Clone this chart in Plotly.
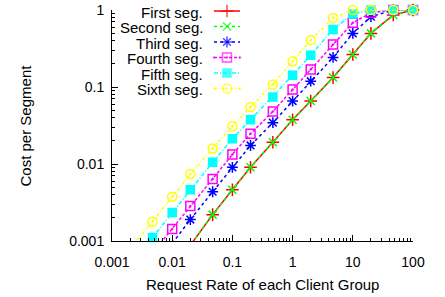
import plotly.graph_objects as go

# ---- data ----
rate = [0.001, 0.002, 0.0047, 0.01, 0.02, 0.047, 0.1, 0.2, 0.47, 1, 2, 4.7, 10, 20, 47, 100]

series_names = ["First seg.", "Second seg.", "Third seg.", "Fourth seg.", "Fifth seg.", "Sixth seg."]

first_seg  = [0.00004, 0.00009, 0.0002, 0.00042, 0.00088, 0.0022, 0.00464, 0.00906, 0.0192, 0.0376, 0.0657, 0.1325, 0.264, 0.497, 0.86, 1.0]
second_seg = [0.00004, 0.00009, 0.0002, 0.00042, 0.00088, 0.0022, 0.00464, 0.00906, 0.0192, 0.0376, 0.0657, 0.1325, 0.264, 0.497, 0.86, 1.0]
third_seg  = [0.0001, 0.0002, 0.00045, 0.00093, 0.0019, 0.00436, 0.00906, 0.0174, 0.0344, 0.0657, 0.119, 0.242, 0.497, 0.818, 1.0, 1.0]
fourth_seg = [0.00014, 0.0003, 0.0007, 0.00143, 0.00284, 0.0064, 0.0133, 0.0247, 0.048, 0.0925, 0.169, 0.357, 0.683, 0.92, 1.0, 1.0]
fifth_seg  = [0.00024, 0.00052, 0.00111, 0.00234, 0.00464, 0.0105, 0.0212, 0.0376, 0.074, 0.142, 0.259, 0.56, 0.887, 1.0, 1.0, 1.0]
sixth_seg  = [0.0004, 0.0008, 0.00178, 0.00376, 0.0074, 0.0159, 0.031, 0.055, 0.108, 0.216, 0.406, 0.79, 1.0, 1.0, 1.0, 1.0]

x_ticks = [0.001, 0.01, 0.1, 1, 10, 100]
x_tick_labels = ["0.001", "0.01", "0.1", "1", "10", "100"]
y_ticks = [0.001, 0.01, 0.1, 1]
y_tick_labels = ["0.001", "0.01", "0.1", "1"]

x_title = "Request Rate of each Client Group"
y_title = "Cost per Segment"

values = [first_seg, second_seg, third_seg, fourth_seg, fifth_seg, sixth_seg]

# minor tick positions (2..9 within each decade)
x_minor = [m * 10.0 ** e for e in range(-3, 2) for m in range(2, 10)]
y_minor = [m * 10.0 ** e for e in range(-3, 0) for m in range(2, 10)]

# ---- styles ----
colors = ["#ff0000", "#00ff00", "#0000ff", "#ff00ff", "#00ffff", "#ffff00"]
dashes = ["solid", "dot", "dot", "3px,2px", "4px,2px,1px,2px", "3px,2px,1px,2px"]
symbols = ["cross-thin", "x-thin", "asterisk-open", "square-open-dot", "square", "circle-open-dot"]
sizes = [9, 8, 9, 9, 8, 9]

FONT = "Liberation Sans, Arial, sans-serif"
fig = go.Figure()

YMIN = 0.001
for name, v, c, d, s, sz in zip(series_names, values, colors, dashes, symbols, sizes):
    fig.add_trace(go.Scatter(
        x=rate, y=v, mode="lines", name=name, showlegend=False,
        line=dict(color=c, width=1.5, dash=d), hoverinfo="skip"))
    xs = [xv for xv, yv in zip(rate, v) if yv >= YMIN]
    ys = [yv for yv in v if yv >= YMIN]
    fig.add_trace(go.Scatter(
        x=xs, y=ys, mode="markers", name=name, showlegend=False, cliponaxis=False,
        marker=dict(symbol=s, size=sz, color=c, line=dict(color=c, width=1.5))))

# ---- custom gnuplot-style legend (text left, sample right) ----
# legend overlay axes: x2 in units of sample length, y2 in pixels from plot top
PLOT_W, PLOT_H = 301, 231
SAMPLE_L, SAMPLE_LEFT = 26.0, 102.0  # px
x2_range = [-SAMPLE_LEFT / SAMPLE_L, (PLOT_W - SAMPLE_LEFT) / SAMPLE_L]
row_gap = 15.5
for i, (name, c, d, s, sz) in enumerate(zip(series_names, colors, dashes, symbols, sizes)):
    r = 1 + row_gap * i
    fig.add_trace(go.Scatter(
        x=[0, 0.5, 1], y=[r, r, r], mode="lines+markers", showlegend=False,
        xaxis="x2", yaxis="y2", cliponaxis=False, hoverinfo="skip",
        line=dict(color=c, width=1.5, dash=d),
        marker=dict(symbol=s, size=[0, sz, 0], color=c, line=dict(color=c, width=1.5))))
    fig.add_annotation(
        xref="paper", yref="y2", x=0.3056, y=r + 1, text=name, showarrow=False,
        xanchor="right", yanchor="middle", borderpad=0,
        font=dict(family=FONT, size=15, color="black"))

# axis titles as annotations for exact placement
fig.add_annotation(xref="paper", yref="paper", x=0.5, y=-43 / PLOT_H, text=x_title,
                   showarrow=False, xanchor="center", yanchor="middle",
                   font=dict(family=FONT, size=15, color="black"))
fig.add_annotation(xref="paper", yref="paper", x=-87 / PLOT_W, y=0.5, text=y_title,
                   showarrow=False, xanchor="center", yanchor="middle", textangle=-90,
                   font=dict(family=FONT, size=15, color="black"))

axis_common = dict(
    type="log", showgrid=False, zeroline=False, showline=True, linecolor="black",
    linewidth=1, ticks="inside", ticklen=6, tickcolor="black", tickwidth=1,
    automargin=False,
    tickfont=dict(family=FONT, size=14, color="black"),
)

fig.update_layout(
    width=445, height=297,
    margin=dict(l=112, r=32, t=10, b=56),
    paper_bgcolor="white", plot_bgcolor="white",
    font=dict(family=FONT, size=15, color="black"),
    xaxis=dict(range=[-3, 2], tickvals=x_ticks, ticktext=x_tick_labels,
               ticklabelstandoff=8,
               minor=dict(tickmode="array", tickvals=x_minor, ticks="inside", ticklen=3,
                          tickcolor="black", tickwidth=1, showgrid=False),
               **axis_common),
    yaxis=dict(range=[-3, 0], tickvals=y_ticks, ticktext=y_tick_labels,
               ticklabelstandoff=4,
               minor=dict(tickmode="array", tickvals=y_minor, ticks="inside", ticklen=3,
                          tickcolor="black", tickwidth=1, showgrid=False),
               **axis_common),
    xaxis2=dict(range=x2_range, visible=False, overlaying="x"),
    yaxis2=dict(range=[PLOT_H, 0], visible=False, overlaying="y"),
)

fig.write_html("out.html", config={"displayModeBar": False},
               post_script="document.body.style.margin='0px';")
